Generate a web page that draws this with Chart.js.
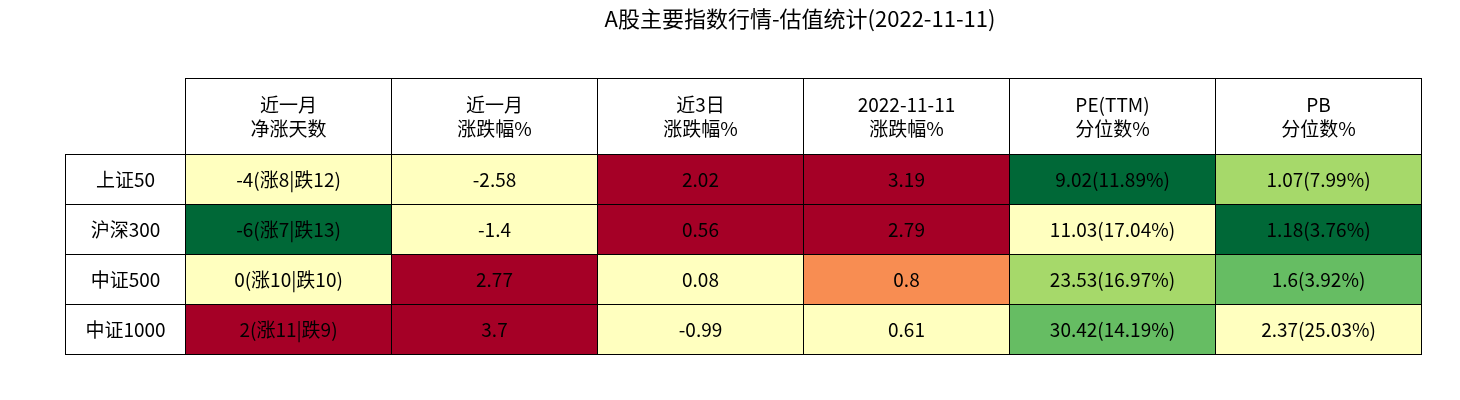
<!DOCTYPE html>
<html><head><meta charset="utf-8">
<script src="https://cdn.jsdelivr.net/npm/chart.js@4/dist/chart.umd.min.js"></script>
<style>html,body{margin:0;padding:0;background:#fff}#c{display:block}</style>
</head><body>
<canvas id="c" width="1460" height="400"></canvas>
<script>
const title = 'A股主要指数行情-估值统计(2022-11-11)';
const columns = ['近一月\n净涨天数','近一月\n涨跌幅%','近3日\n涨跌幅%','2022-11-11\n涨跌幅%','PE(TTM)\n分位数%','PB\n分位数%'];
const rows = ['上证50','沪深300','中证500','中证1000'];
const col1 = ['-4(涨8|跌12)','-6(涨7|跌13)','0(涨10|跌10)','2(涨11|跌9)'];
const col2 = ['-2.58','-1.4','2.77','3.7'];
const col3 = ['2.02','0.56','0.08','-0.99'];
const col4 = ['3.19','2.79','0.8','0.61'];
const col5 = ['9.02(11.89%)','11.03(17.04%)','23.53(16.97%)','30.42(14.19%)'];
const col6 = ['1.07(7.99%)','1.18(3.76%)','1.6(3.92%)','2.37(25.03%)'];
const cells = [col1,col2,col3,col4,col5,col6];
const Y='#ffffbf',R='#a50026',G='#006837',O='#f88d52',LG='#a6d96a',MG='#66bd63';
const fills = [[Y,G,Y,R],[Y,Y,R,R],[R,R,Y,Y],[R,R,O,Y],[G,Y,LG,MG],[LG,G,MG,Y]];
const LABELW = 120/206, HEADH = 76/50;
const FONT = '"Noto Sans CJK SC", sans-serif';

const tablePlugin = {
  id:'table',
  afterDraw(chart){
    const ctx=chart.ctx, xs=chart.scales.x, ys=chart.scales.y;
    const px=v=>xs.getPixelForValue(v), py=v=>ys.getPixelForValue(v);
    ctx.save();
    ctx.lineWidth=1; ctx.strokeStyle='#000'; ctx.textAlign='center'; ctx.textBaseline='middle';
    const cell=(x0,x1,y0,y1,fill,text)=>{
      const a=Math.round(px(x0))+0.5,b=Math.round(px(x1))+0.5,c=Math.round(py(y0))+0.5,d=Math.round(py(y1))+0.5;
      ctx.fillStyle=fill; ctx.fillRect(a,c,b-a,d-c); ctx.strokeRect(a,c,b-a,d-c);
      ctx.fillStyle='#000'; ctx.font='19px '+FONT;
      const lines=text.split('\n'), lh=24, cy=(c+d)/2-(lines.length-1)*lh/2;
      lines.forEach((t,i)=>ctx.fillText(t,(a+b)/2,cy+i*lh));
    };
    columns.forEach((h,i)=>cell(LABELW+i,LABELW+i+1,0,HEADH,'#fff',h));
    rows.forEach((r,j)=>{
      cell(0,LABELW,HEADH+j,HEADH+j+1,'#fff',r);
      cells.forEach((col,i)=>cell(LABELW+i,LABELW+i+1,HEADH+j,HEADH+j+1,fills[i][j],col[j]));
    });
    ctx.font='22px '+FONT; ctx.fillStyle='#000';
    ctx.fillText(title,800,19);
    ctx.restore();
  }
};
new Chart(document.getElementById('c'),{
  type:'scatter',
  data:{datasets:[{data:[],showLine:false}]},
  options:{responsive:false,animation:false,
    layout:{padding:{left:65,right:39,top:78,bottom:46}},
    plugins:{legend:{display:false},tooltip:{enabled:false}},
    scales:{x:{type:'linear',min:0,max:LABELW+columns.length,display:false},
            y:{type:'linear',min:0,max:HEADH+rows.length,reverse:true,display:false}}},
  plugins:[tablePlugin]
});
</script></body></html>
